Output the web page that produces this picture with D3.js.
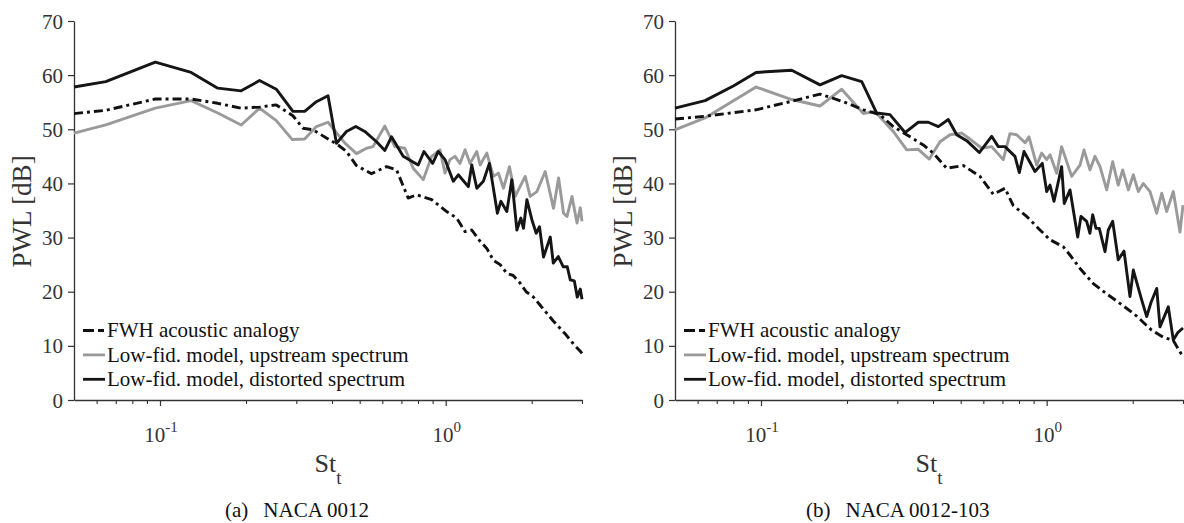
<!DOCTYPE html>
<html>
<head>
<meta charset="utf-8">
<script src="https://cdn.jsdelivr.net/npm/d3@7"></script>
<style>
  html, body { margin: 0; padding: 0; background: #fff; }
  svg { display: block; }
  text { font-family: "Liberation Serif", "Times New Roman", serif; }
</style>
</head>
<body>
<svg id="chart" width="1184" height="523"></svg>
<script>
// ---------------- DATA (St_t, PWL dB) ----------------
const yTicks = [0, 10, 20, 30, 40, 50, 60, 70];
const xMajorTicks = [0.1, 1];
const xMajorExp = ["-1", "0"];
const xMinorTicks = [0.06, 0.07, 0.08, 0.09, 0.2, 0.3, 0.4, 0.5, 0.6, 0.7, 0.8, 0.9, 2, 3];
const legendLabels = ["FWH acoustic analogy", "Low-fid. model, upstream spectrum", "Low-fid. model, distorted spectrum"];
const captions = [["(a)", "NACA 0012"], ["(b)", "NACA 0012-103"]];

// Panel (a) NACA 0012
const fwhA = [[0.05,52.9],[0.0646,53.5],[0.0963,55.6],[0.1285,55.6],[0.1593,54.8],[0.1924,53.9],[0.2231,54.1],[0.2553,54.5],
  [0.2919,52.5],[0.3165,50.2],[0.343,49.9],[0.3824,48.4],[0.4201,47.1],[0.4494,45.9],[0.4872,43.3],[0.5498,41.8],
  [0.6209,43.1],[0.673,42.5],[0.739,37.3],[0.7911,37.9],[0.8932,37.0],[1.008,34.8],[1.093,33.6],[1.169,31.1],
  [1.234,31.4],[1.32,29.3],[1.393,28.0],[1.469,25.8],[1.551,25.0],[1.637,23.4],[1.722,23.0],[1.822,21.6],
  [1.913,20.0],[2.029,19.0],[2.142,17.5],[2.262,16.0],[2.38,14.6],[2.518,13.2],[2.643,12.0],[2.804,10.3],
  [2.959,9.0],[3.0,8.6]];
const upA = [[0.05,49.3],[0.0646,50.8],[0.0963,53.9],[0.1285,55.3],[0.1593,53.0],[0.1924,50.8],[0.2231,53.9],[0.2553,51.6],
  [0.2905,48.1],[0.3209,48.2],[0.3527,50.5],[0.3874,51.3],[0.4432,47.5],[0.4872,45.5],[0.5282,46.5],[0.5569,46.8],
  [0.6124,50.6],[0.6638,46.8],[0.7196,46.5],[0.7695,42.8],[0.8346,40.7],[0.8932,45.0],[0.955,46.2],[0.9943,41.9],
  [1.035,44.4],[1.078,45.0],[1.122,43.7],[1.169,46.2],[1.217,43.7],[1.285,45.9],[1.32,43.4],[1.393,45.6],
  [1.469,41.3],[1.53,41.9],[1.593,39.1],[1.672,43.1],[1.751,37.6],[1.898,41.3],[1.976,37.6],[2.086,38.5],
  [2.23,42.2],[2.385,35.4],[2.484,41.0],[2.586,34.5],[2.659,33.9],[2.768,37.6],[2.882,32.7],[2.959,35.5],[3.0,33.0]];
const distA = [[0.05,57.8],[0.0646,58.8],[0.0963,62.4],[0.1285,60.5],[0.1593,57.6],[0.1924,57.1],[0.2231,59.0],[0.2553,57.4],
  [0.2919,53.3],[0.3209,53.3],[0.3527,55.1],[0.3874,56.2],[0.4146,47.4],[0.4494,49.6],[0.4845,50.5],[0.5209,49.6],
  [0.5728,47.7],[0.6124,46.1],[0.6462,48.6],[0.7098,45.0],[0.8015,43.4],[0.8394,45.9],[0.9002,43.7],[0.9419,45.9],
  [0.9943,44.4],[1.063,40.4],[1.107,41.6],[1.2,39.4],[1.234,43.4],[1.285,39.1],[1.355,40.4],[1.422,43.7],
  [1.517,34.5],[1.56,36.7],[1.637,34.8],[1.704,40.7],[1.775,31.4],[1.833,33.6],[1.872,31.7],[1.924,37.0],
  [2.003,33.3],[2.074,30.8],[2.13,32.0],[2.2,26.4],[2.323,30.1],[2.38,25.3],[2.478,26.5],[2.58,24.6],
  [2.665,24.6],[2.73,22.2],[2.82,22.0],[2.888,19.0],[2.959,20.5],[3.0,18.6]];

// Panel (b) NACA 0012-103
const fwhB = [[0.05,51.9],[0.0637,52.4],[0.0961,53.6],[0.1263,55.1],[0.1609,56.5],[0.1941,55.1],[0.2281,53.6],[0.2609,52.7],
  [0.2904,50.5],[0.3236,49.0],[0.3698,47.1],[0.401,45.6],[0.4467,42.8],[0.5106,43.3],[0.5842,41.3],[0.6502,38.0],
  [0.7145,39.1],[0.7641,35.9],[0.8511,33.9],[0.9473,31.4],[1.027,29.6],[1.143,28.3],[1.218,26.5],[1.308,24.3],
  [1.456,21.5],[1.622,19.6],[1.854,17.4],[2.065,15.5],[2.33,12.9],[2.559,11.6],[2.774,11.0],[2.928,8.9],[3.0,8.0]];
const upB = [[0.05,49.9],[0.0637,52.1],[0.0961,57.8],[0.1281,55.5],[0.1609,54.3],[0.1916,57.4],[0.2281,52.9],[0.2506,53.3],
  [0.2904,49.6],[0.3236,46.2],[0.3553,46.3],[0.3882,44.5],[0.4233,47.7],[0.4587,49.0],[0.504,49.3],[0.5388,48.2],
  [0.5924,46.5],[0.6418,46.8],[0.7047,44.4],[0.7437,49.2],[0.7852,49.0],[0.8395,47.5],[0.867,48.6],[0.9226,43.4],
  [0.9605,45.6],[1.0,44.4],[1.027,45.3],[1.084,41.9],[1.128,46.8],[1.223,41.3],[1.308,43.4],[1.351,46.2],
  [1.417,42.5],[1.476,45.0],[1.537,43.1],[1.622,38.8],[1.702,44.0],[1.78,39.7],[1.845,42.5],[1.931,38.8],
  [2.01,41.6],[2.093,38.5],[2.178,40.0],[2.299,38.5],[2.427,34.5],[2.528,38.2],[2.63,34.8],[2.774,38.5],
  [2.928,31.0],[3.0,36.0]];
const distB = [[0.05,53.9],[0.0637,55.3],[0.08,58.0],[0.0961,60.5],[0.1281,60.9],[0.1609,58.2],[0.1916,59.9],[0.2252,58.8],
  [0.2541,53.0],[0.2828,52.7],[0.3192,49.4],[0.3553,51.3],[0.3851,51.3],[0.4176,50.5],[0.4525,51.8],[0.4842,49.0],
  [0.5248,47.9],[0.581,45.7],[0.6418,48.7],[0.6769,46.8],[0.7145,46.8],[0.7745,45.0],[0.8019,42.0],[0.833,45.9],
  [0.9099,42.2],[0.9652,43.7],[1.0,38.5],[1.027,39.7],[1.061,36.7],[1.128,43.1],[1.152,36.3],[1.207,38.8],
  [1.284,30.1],[1.318,33.9],[1.38,33.0],[1.417,30.8],[1.449,34.2],[1.488,31.7],[1.528,31.7],[1.6,27.4],
  [1.643,31.4],[1.702,33.0],[1.78,25.9],[1.865,27.5],[1.957,19.1],[2.01,24.0],[2.15,18.5],[2.239,15.4],
  [2.318,18.0],[2.427,20.6],[2.492,13.5],[2.665,17.2],[2.774,11.1],[2.882,12.5],[3.0,13.3]];

const panels = [
  { x0: 74, x1: 582, series: [fwhA, upA, distA], caption: captions[0] },
  { x0: 675, x1: 1183, series: [fwhB, upB, distB], caption: captions[1] }
];

// ---------------- STYLE ----------------
const yTop = 21, yBot = 400;
const colors = ["#111111", "#9a9a9a", "#151515"];
const dashes = ["9,4,3,4", null, null];
const axisColor = "#333";

const svg = d3.select("#chart");

panels.forEach((p, pi) => {
  const x = d3.scaleLog().domain([0.05, 3]).range([p.x0, p.x1]);
  const y = d3.scaleLinear().domain([0, 70]).range([yBot, yTop]);
  const g = svg.append("g");

  // y axis
  const ya = g.append("g").attr("transform", `translate(${p.x0},0)`)
    .call(d3.axisLeft(y).tickValues(yTicks).tickSize(6).tickSizeOuter(0).tickPadding(5).tickFormat(d3.format("d")));
  ya.select(".domain").attr("stroke", axisColor).attr("stroke-width", 1.3);
  ya.selectAll(".tick line").attr("stroke", axisColor).attr("stroke-width", 1.2);
  ya.selectAll(".tick text").attr("font-family", "Liberation Serif, serif").attr("font-size", 21).attr("fill", "#333").attr("dy", "0.34em");

  // x axis minor
  const xaMinor = g.append("g").attr("transform", `translate(0,${yBot})`)
    .call(d3.axisBottom(x).tickValues(xMinorTicks).tickSize(4).tickSizeOuter(0).tickFormat(""));
  xaMinor.select(".domain").attr("stroke", axisColor).attr("stroke-width", 1.3);
  xaMinor.selectAll(".tick line").attr("stroke", axisColor).attr("stroke-width", 1.1);
  // x axis major
  const xaMajor = g.append("g").attr("transform", `translate(0,${yBot})`)
    .call(d3.axisBottom(x).tickValues(xMajorTicks).tickSize(6).tickSizeOuter(0).tickFormat(""));
  xaMajor.select(".domain").remove();
  xaMajor.selectAll(".tick line").attr("stroke", axisColor).attr("stroke-width", 1.2);

  // major tick labels 10^n
  xMajorTicks.forEach((v, i) => {
    const t = g.append("text").attr("x", x(v) + 1).attr("y", 441.5)
      .attr("text-anchor", "middle").attr("font-size", 21).attr("fill", "#333");
    t.append("tspan").text("10");
    t.append("tspan").attr("dy", -10).attr("font-size", 15).text(xMajorExp[i]);
  });

  // x label St_t
  const cx = (p.x0 + p.x1) / 2;
  const xl = g.append("text").attr("x", cx).attr("y", 472).attr("text-anchor", "middle")
    .attr("font-size", 26).attr("fill", "#333");
  xl.append("tspan").text("St");
  xl.append("tspan").attr("dy", 12).attr("font-size", 19).text("t");

  // y label
  g.append("text").attr("transform", `translate(${p.x0 - 52},${(yTop + yBot) / 2 + 1}) rotate(-90)`)
    .attr("text-anchor", "middle").attr("dy", "0.35em")
    .attr("font-size", 27).attr("fill", "#333").text("PWL [dB]");

  // lines
  const line = d3.line().x(d => x(d[0])).y(d => y(d[1]));
  [1, 2, 0].forEach(si => {
    g.append("path").datum(p.series[si]).attr("d", line)
      .attr("fill", "none").attr("stroke", colors[si]).attr("stroke-width", 2.9)
      .attr("stroke-linejoin", "round")
      .attr("stroke-dasharray", dashes[si]);
  });

  // legend
  const lx = p.x0 + 9;
  legendLabels.forEach((lab, i) => {
    const ly = 330.5 + i * 24.4;
    g.append("line").attr("x1", lx).attr("x2", lx + 22).attr("y1", ly).attr("y2", ly)
      .attr("stroke", colors[i]).attr("stroke-width", 2.8)
      .attr("stroke-dasharray", i === 0 ? "11,4,6,40" : null);
    g.append("text").attr("x", lx + 24).attr("y", ly).attr("dy", "0.33em")
      .attr("font-size", 21).attr("fill", "#111").text(lab);
  });

  // caption
  const cap = g.append("text").attr("x", pi === 0 ? 225 : 806).attr("y", 517)
    .attr("font-size", 21).attr("fill", "#111");
  cap.append("tspan").text(p.caption[0]);
  cap.append("tspan").attr("dx", 15).text(p.caption[1]);
});
</script>
</body>
</html>
